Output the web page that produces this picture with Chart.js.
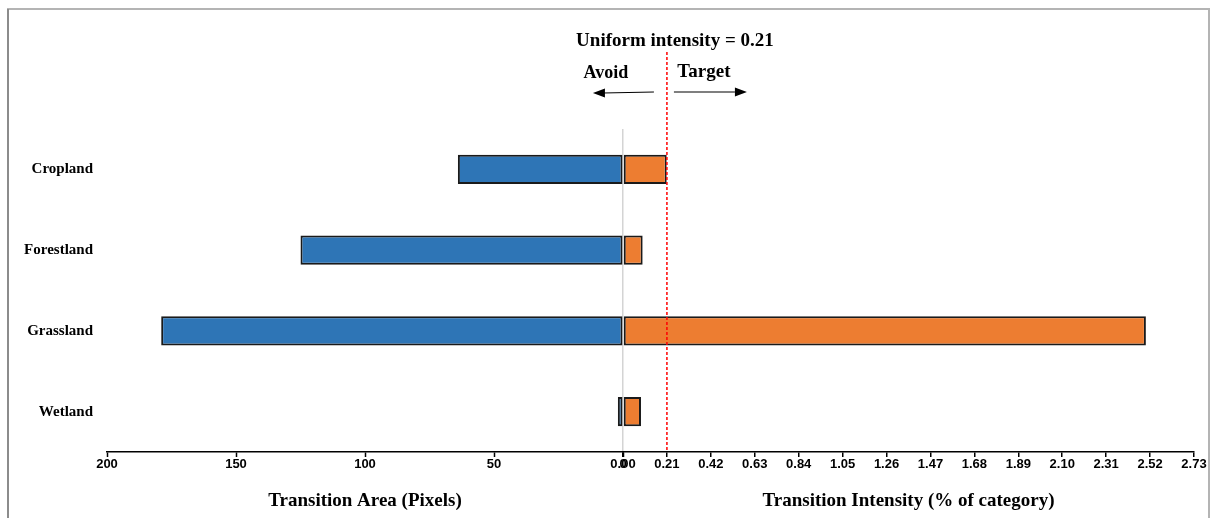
<!DOCTYPE html>
<html>
<head>
<meta charset="utf-8">
<script src="https://cdn.jsdelivr.net/npm/chart.js@4"></script>
<style>
  body { margin: 0; background: #fff; }
  #wrap { width: 1212px; height: 518px; position: relative; }
</style>
</head>
<body>
<div id="wrap"><canvas id="chart"></canvas></div>
<script>
// categories and values
const categories = ['Cropland', 'Forestland', 'Grassland', 'Wetland'];
const transitionArea = [64, 125, 179, 2];              // pixels, drawn to the left
const transitionIntensity = [0.209, 0.094, 2.50, 0.086]; // % of category, to the right
const uniformIntensity = 0.21;
const areaTicks = [200, 150, 100, 50, 0];
const intensityTicks = [0, 0.21, 0.42, 0.63, 0.84, 1.05, 1.26, 1.47, 1.68, 1.89, 2.10, 2.31, 2.52, 2.73];

const serif = "'Liberation Serif', 'Times New Roman', serif";
const sans = "'Liberation Sans', Arial, sans-serif";

// frame + white background
const framePlugin = {
    id: 'frame',
    beforeDraw(chart) {
        const c = chart.ctx;
        c.save();
        c.fillStyle = '#fff';
        c.fillRect(0, 0, chart.width, chart.height);
        c.lineWidth = 2;
        c.strokeStyle = '#b4b4b4';
        c.beginPath();
        c.moveTo(8, 520); c.lineTo(8, 9); c.lineTo(1209, 9); c.lineTo(1209, 520);
        c.stroke();
        c.strokeStyle = '#8c8c8c';
        c.beginPath();
        c.moveTo(8, 520); c.lineTo(8, 9);
        c.stroke();
        c.restore();
    }
};

// uniform intensity line and the avoid / target notes
const uniformPlugin = {
    id: 'uniform',
    afterDatasetsDraw(chart) {
        const c = chart.ctx;
        const x = chart.scales.xR.getPixelForValue(uniformIntensity);
        const bottom = chart.chartArea.bottom;
        c.save();
        c.strokeStyle = '#ff0000';
        c.lineWidth = 1.5;
        c.setLineDash([3, 2]);
        c.beginPath();
        c.moveTo(x, 52);
        c.lineTo(x, bottom);
        c.stroke();
        c.setLineDash([]);

        c.fillStyle = '#000';
        c.textBaseline = 'middle';
        c.textAlign = 'center';
        c.font = 'bold 19px ' + serif;
        c.fillText('Uniform intensity = ' + uniformIntensity.toFixed(2), x + 8, 41);
        c.font = 'bold 18px ' + serif;
        c.fillText('Avoid', x - 61, 73);
        c.font = 'bold 19px ' + serif;
        c.fillText('Target', x + 37, 72);

        // arrows
        c.strokeStyle = '#000';
        c.lineWidth = 1.2;
        c.beginPath();
        c.moveTo(x - 13, 92); c.lineTo(x - 64, 93);
        c.moveTo(x + 7, 92); c.lineTo(x + 68, 92);
        c.stroke();
        c.beginPath();
        c.moveTo(x - 74, 93); c.lineTo(x - 62, 88.5); c.lineTo(x - 62, 97.5); c.closePath();
        c.moveTo(x + 80, 92); c.lineTo(x + 68, 87.5); c.lineTo(x + 68, 96.5); c.closePath();
        c.fill();
        c.restore();
    }
};

const tickFont = { family: sans, size: 13, weight: 'bold' };
const titleFont = { family: serif, size: 19, weight: 'bold' };

new Chart(document.getElementById('chart'), {
    type: 'bar',
    data: {
        labels: categories,
        datasets: [
            {
                label: 'Transition Area (Pixels)',
                data: transitionArea,
                xAxisID: 'xL',
                backgroundColor: '#2E75B6',
                borderColor: '#1a1a1a',
                borderWidth: 2,
                borderSkipped: false
            },
            {
                label: 'Transition Intensity (% of category)',
                data: transitionIntensity,
                xAxisID: 'xR',
                backgroundColor: '#ED7D31',
                borderColor: '#1a1a1a',
                borderWidth: 2,
                borderSkipped: false
            }
        ]
    },
    options: {
        indexAxis: 'y',
        responsive: true,
        maintainAspectRatio: false,
        animation: false,
        grouped: false,
        barPercentage: 0.36,
        categoryPercentage: 1,
        layout: { padding: { top: 129, right: 18, bottom: 6, left: 0 } },
        plugins: { legend: { display: false }, tooltip: { enabled: false } },
        scales: {
            y: {
                type: 'category',
                grid: { display: false, drawTicks: false },
                border: { display: false },
                ticks: { color: '#000', font: { family: serif, size: 15, weight: 'bold' }, padding: 14 },
                afterFit(scale) { scale.width = 107; }
            },
            xL: {
                type: 'linear',
                position: 'bottom',
                stack: 'x',
                stackWeight: 516,
                reverse: true,
                min: 0,
                max: 200,
                afterBuildTicks(scale) { scale.ticks = areaTicks.map(v => ({ value: v })); },
                afterFit(scale) { scale.height = 60; },
                grid: { drawOnChartArea: false, tickLength: 5, tickColor: '#000', tickWidth: 1.5 },
                border: { display: true, color: '#000', width: 1.5 },
                ticks: { color: '#000', font: tickFont, padding: 0, maxRotation: 0, autoSkip: false,
                         callback: v => String(v) },
                title: { display: true, text: 'Transition Area (Pixels)', color: '#000', font: titleFont, padding: 0 }
            },
            xR: {
                type: 'linear',
                position: 'bottom',
                stack: 'x',
                stackWeight: 571,
                min: 0,
                max: 2.73,
                afterBuildTicks(scale) { scale.ticks = intensityTicks.map(v => ({ value: v })); },
                afterFit(scale) { scale.height = 60; },
                grid: {
                    drawOnChartArea: true,
                    color: ctx => (ctx.index === 0 ? '#d4d4d4' : 'rgba(0,0,0,0)'),
                    lineWidth: 1.5,
                    tickLength: 5, tickColor: '#000', tickWidth: 1.5
                },
                border: { display: true, color: '#000', width: 1.5 },
                ticks: { color: '#000', font: tickFont, padding: 0, maxRotation: 0, autoSkip: false,
                         callback: v => Number(v).toFixed(2) },
                title: { display: true, text: 'Transition Intensity (% of category)', color: '#000', font: titleFont, padding: 0 }
            }
        }
    },
    plugins: [framePlugin, uniformPlugin]
});
</script>
</body>
</html>
